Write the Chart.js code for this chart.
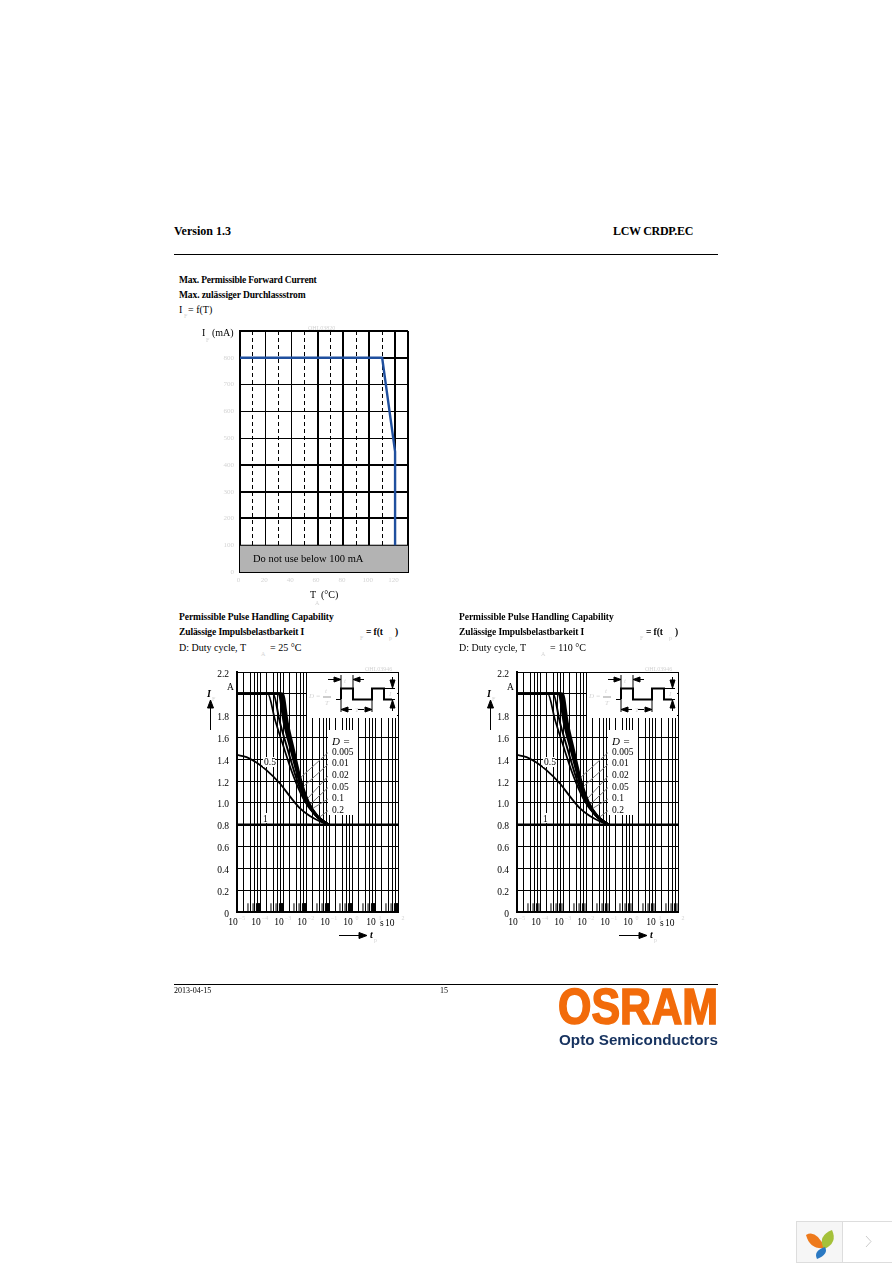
<!DOCTYPE html>
<html>
<head>
<meta charset="utf-8">
<title>LCW CRDP.EC</title>
<script src="https://cdn.jsdelivr.net/npm/chart.js@4"></script>
<style>
  html, body { margin: 0; background: #fff; }
  body { position: relative; width: 892px; height: 1263px; overflow: hidden; font-family: "Liberation Serif", serif; color: #000; }
  canvas { position: absolute; }
  .t { position: absolute; white-space: pre; font-size: 10px; line-height: 12px; }
  .b { font-weight: bold; font-size: 9.5px; letter-spacing: -0.1px; }
  .faint { color: #d4d4d4; font-size: 6px; }
  .rule { position: absolute; left: 174px; width: 544px; height: 1px; background: #000; }
  .mask { position: absolute; background: #fff; }
  svg.over { position: absolute; left: 0; top: 0; }
</style>
</head>
<body>
<div class="t b" style="left:174px;top:224px;font-size:12px;line-height:14px;letter-spacing:0">Version 1.3</div>
<div class="t b" style="left:613px;top:224px;font-size:12px;line-height:14px;letter-spacing:-0.3px">LCW CRDP.EC</div>
<div class="rule" style="top:254px"></div>

<div class="t b" style="left:179px;top:274px;letter-spacing:-0.2px">Max. Permissible Forward Current</div>
<div class="t b" style="left:179px;top:289px">Max. zulässiger Durchlassstrom</div>
<div class="t" style="left:179px;top:304px">I</div>
<div class="t faint" style="left:184px;top:310px">F</div>
<div class="t" style="left:188px;top:304px">= f(T)</div>

<canvas id="maxCurrent" width="220" height="271" style="left:200px;top:321px"></canvas>
<div class="t" style="left:202px;top:327px">I</div>
<div class="t faint" style="left:206px;top:334px">F</div>
<div class="t" style="left:212px;top:327px">(mA)</div>
<div class="t" style="left:310px;top:589px">T</div>
<div class="t faint" style="left:315px;top:597px">A</div>
<div class="t" style="left:321px;top:589px">(°C)</div>
<div class="t faint" style="left:308px;top:322px">OHL03820</div>

<div id="pulseParts"></div>

<div class="rule" style="top:984px"></div>
<div class="t" style="left:174px;top:985px;font-size:8px">2013-04-15</div>
<div class="t" style="left:440px;top:985px;font-size:8px">15</div>

<svg class="over" width="892" height="1263" style="pointer-events:none">
  <text x="558" y="1024" font-family="Liberation Sans" font-weight="bold" font-size="50" fill="#f26b0a" stroke="#f26b0a" stroke-width="1.6" textLength="160" lengthAdjust="spacingAndGlyphs">OSRAM</text>
  <text x="559" y="1045" font-family="Liberation Sans" font-weight="bold" font-size="15" fill="#16325f" textLength="159" lengthAdjust="spacingAndGlyphs">Opto Semiconductors</text>
  <rect x="796.5" y="1221.5" width="46" height="41" fill="#f6f6f6" stroke="#ddd"/>
  <rect x="842.5" y="1221.5" width="50" height="41" fill="#fff" stroke="#ddd"/>
  <path d="M806 1235 Q816 1229 825 1248 Q810 1250 806 1235Z" fill="#ee7a1c"/>
  <path d="M832 1230 Q838 1243 824 1249 Q817 1236 832 1230Z" fill="#a5c13a"/>
  <path d="M825 1247 Q829 1254 817 1259 Q813 1251 825 1247Z" fill="#2b79c2"/>
  <path d="M866 1236 L871 1241.5 L866 1247" fill="none" stroke="#ccc"/>
</svg>

<script>
// forward current derating
const tempC = [0, 110, 120, 120];
const forwardMA = [800, 800, 450, 100];
const bandTemp = [0, 130];
const bandMA = [100, 100];
const thickTemp = [0, 60, 80, 100, 120, 130];
const thickMA = [0, 200, 300, 400, 800, 900];
const dashedTemp = [10, 30, 50, 70, 90, 110];

// pulse handling, the curves are the same for both temperatures
const tD1 = [1e-5, 2.6e-5, 7e-5, 1.9e-4, 7.2e-4, 2e-3, 5.5e-3, 1.48e-2, 4.1e-2, 0.094];
const iD1 = [1.44, 1.42, 1.37, 1.30, 1.18, 1.06, 0.95, 0.88, 0.83, 0.80];
const tD02 = [1e-5, 2.2e-4, 4.4e-4, 1e-3, 2.8e-3, 7.6e-3, 2.1e-2, 0.094];
const iD02 = [2.0, 2.0, 1.77, 1.53, 1.25, 1.04, 0.905, 0.80];
const tD01 = [1e-5, 3.7e-4, 7.3e-4, 1.7e-3, 3.9e-3, 9e-3, 2.47e-2, 0.094];
const iD01 = [2.0, 2.0, 1.74, 1.47, 1.22, 1.03, 0.89, 0.80];
const tD005 = [1e-5, 6.6e-4, 1.1e-3, 2.2e-3, 4.9e-3, 1.12e-2, 2.8e-2, 0.094];
const iD005 = [2.0, 2.0, 1.74, 1.49, 1.22, 1.01, 0.883, 0.80];
const tD002 = [1e-5, 7.6e-4, 1.25e-3, 2.5e-3, 5.2e-3, 1.2e-2, 2.95e-2, 0.094];
const iD002 = [2.0, 2.0, 1.74, 1.48, 1.21, 1.005, 0.88, 0.80];
const tD001 = [1e-5, 8.6e-4, 1.4e-3, 2.7e-3, 5.5e-3, 1.26e-2, 3.1e-2, 0.094];
const iD001 = [2.0, 2.0, 1.74, 1.48, 1.21, 1.002, 0.877, 0.80];
const tD0005 = [1e-5, 9.6e-4, 1.55e-3, 2.95e-3, 5.9e-3, 1.33e-2, 3.25e-2, 0.094];
const iD0005 = [2.0, 2.0, 1.74, 1.48, 1.21, 0.999, 0.874, 0.80];
const tLimit = [1e-5, 100];
const iLimit = [0.8, 0.8];

const legendDuty = ['0.005', '0.01', '0.02', '0.05', '0.1', '0.2'];
const leaderT0 = [0.1, 0.1, 0.1, 0.1, 0.1, 0.1];
const leaderI0 = [1.469, 1.362, 1.255, 1.149, 1.042, 0.935];
const leaderT1 = [5.3e-3, 6.3e-3, 1.03e-2, 1.44e-2, 2e-2, 3.3e-2];
const leaderI1 = [1.225, 1.133, 1.027, 0.981, 0.951, 0.859];

const currentTicks = ['0', '0.2', '0.4', '0.6', '0.8', '1.0', '1.2', '1.4', '1.6', '1.8', '', '2.2'];
const decadeExps = [-5, -4, -3, -2, -1, 0, 1, 2];
const gridMantissa = [1, 2, 4, 6, 8];
const shortMantissa25 = [3, 5, 7, 7.4, 7.8, 8, 8.4, 8.8, 9, 9.3, 9.6];
const shortMantissa110 = [3, 5, 7, 9];

const FONT = '"Liberation Serif", serif';

function pts(xs, ys) {
  return xs.map((x, i) => ({x: x, y: ys[i]}));
}

function curve(xs, ys, w) {
  return {data: pts(xs, ys), borderColor: '#000', borderWidth: w, pointRadius: 0, cubicInterpolationMode: 'monotone'};
}

function mantissa(v) {
  return Math.round(v / Math.pow(10, Math.floor(Math.log10(v) + 1e-9)) * 100) / 100;
}

// keep the plot box fixed, tick labels must not push it around
function fixX(s) {
  s.height = 20;
  s.paddingLeft = 0;
  s.paddingRight = 0;
}

function fixY(s) {
  s.width = 40;
  s.paddingTop = 0;
  s.paddingBottom = 0;
}

const bandLabel = {
  id: 'bandLabel',
  afterDatasetsDraw(chart) {
    const c = chart.ctx;
    c.save();
    c.fillStyle = '#000';
    c.font = '10.5px ' + FONT;
    c.textBaseline = 'middle';
    c.fillText('Do not use below 100 mA', chart.scales.x.getPixelForValue(10), chart.scales.y.getPixelForValue(46));
    c.restore();
  }
};

new Chart(document.getElementById('maxCurrent'), {
  type: 'line',
  data: {
    datasets: [
      {data: pts(tempC, forwardMA), borderColor: '#1f4f9e', borderWidth: 2.4, pointRadius: 0, tension: 0, order: 0},
      {data: pts(bandTemp, bandMA), borderColor: '#000', borderWidth: 1, pointRadius: 0, fill: 'origin', backgroundColor: '#b3b3b3', order: 1}
    ]
  },
  options: {
    responsive: false,
    animation: false,
    layout: {padding: {top: 10, right: 12}},
    plugins: {legend: {display: false}, tooltip: {enabled: false}},
    scales: {
      x: {
        type: 'linear', min: 0, max: 130,
        afterFit: fixX,
        border: {color: '#000', width: 1, dash: ctx => ctx.tick && dashedTemp.includes(ctx.tick.value) ? [4, 3] : []},
        grid: {
          drawTicks: false, color: '#000',
          lineWidth: ctx => thickTemp.includes(ctx.tick.value) ? 2 : 1
        },
        ticks: {
          stepSize: 10, autoSkip: false, maxRotation: 0, color: '#d4d4d4', padding: 4, labelOffset: -1.5, font: {family: FONT, size: 7},
          callback: v => (v % 20 === 0 && v <= 120) ? String(v) : ''
        }
      },
      y: {
        min: 0, max: 900,
        afterFit: fixY,
        border: {color: '#000', width: 2},
        grid: {
          drawTicks: false, color: '#000',
          lineWidth: ctx => thickMA.includes(ctx.tick.value) ? 2 : 1
        },
        ticks: {
          stepSize: 100, color: '#d4d4d4', padding: 6, font: {family: FONT, size: 7},
          callback: v => v === 900 ? '' : String(v)
        }
      }
    }
  },
  plugins: [bandLabel]
});

// faint exponents next to the tick labels
const exponents = {
  id: 'exponents',
  afterDraw(chart) {
    const c = chart.ctx;
    c.save();
    c.fillStyle = '#d4d4d4';
    c.font = '6px ' + FONT;
    c.textAlign = 'center';
    decadeExps.forEach(e => {
      c.fillText(String(e).replace('-', '−'), chart.scales.x.getPixelForValue(Math.pow(10, e)) + 5, chart.scales.x.top + 8);
    });
    c.restore();
  }
};

function pulseChart(id, shortMantissa) {
  const ds = [];
  ds.push(curve(tLimit, iLimit, 2.4));
  ds.push(curve(tD1, iD1, 1.8));
  ds.push(curve(tD02, iD02, 1.7));
  ds.push(curve(tD01, iD01, 1.9));
  [[tD005, iD005], [tD002, iD002], [tD001, iD001], [tD0005, iD0005]].forEach(c => {
    ds.push(curve(c[0], c[1], 2.6));
  });
  leaderT0.forEach((t, i) => {
    ds.push({data: pts([t, leaderT1[i]], [leaderI0[i], leaderI1[i]]), borderColor: '#777', borderWidth: 1, pointRadius: 0});
  });
  const shortTicks = [];
  decadeExps.slice(0, -1).forEach(e => {
    shortMantissa.forEach(m => {
      const t = m * Math.pow(10, e);
      shortTicks.push({x: t, y: 0}, {x: t, y: 0.08}, {x: t, y: NaN});
    });
  });
  ds.push({data: shortTicks, borderColor: '#000', borderWidth: 1, pointRadius: 0, spanGaps: false});

  new Chart(document.getElementById(id), {
    type: 'line',
    data: {datasets: ds},
    options: {
      responsive: false,
      animation: false,
      layout: {padding: {top: 10, right: 12}},
      plugins: {legend: {display: false}, tooltip: {enabled: false}},
      scales: {
        x: {
          type: 'logarithmic', min: 1e-5, max: 100,
          afterFit: fixX,
          border: {color: '#000', width: 2},
          grid: {
            drawTicks: false,
            color: ctx => gridMantissa.includes(mantissa(ctx.tick.value)) ? '#000' : 'rgba(0,0,0,0)',
            lineWidth: 1
          },
          ticks: {
            autoSkip: false, maxRotation: 0, color: '#000', padding: 5, labelOffset: -4, font: {family: FONT, size: 9.5},
            callback: v => (mantissa(v) === 1 && v < 50) ? '10' : ''
          }
        },
        y: {
          min: 0, max: 2.2,
          afterFit: fixY,
          border: {color: '#000', width: 2},
          grid: {drawTicks: false, color: '#000', lineWidth: 1},
          ticks: {
            stepSize: 0.2, color: '#000', padding: 8, labelOffset: 2, font: {family: FONT, size: 9.5},
            callback: (v, i) => currentTicks[i]
          }
        }
      }
    },
    plugins: [exponents]
  });
}

function partsHtml(dx, tempText, id) {
  const x = v => v + dx;
  let legend = '';
  legendDuty.forEach((d, i) => {
    legend += `<div class="t" style="left:${x(332)}px;top:${745.5 + i * 11.7}px;font-size:9.5px">${d}</div>`;
  });
  return `
  <div class="t b" style="left:${x(179)}px;top:611px;letter-spacing:-0.05px">Permissible Pulse Handling Capability</div>
  <div class="t b" style="left:${x(179)}px;top:626px">Zulässige Impulsbelastbarkeit I</div>
  <div class="t faint" style="left:${x(360)}px;top:632px">F</div>
  <div class="t b" style="left:${x(366)}px;top:626px">= f(t</div>
  <div class="t faint" style="left:${x(389)}px;top:632px">p</div>
  <div class="t b" style="left:${x(395)}px;top:626px">)</div>
  <div class="t" style="left:${x(179)}px;top:642px">D: Duty cycle, T</div>
  <div class="t faint" style="left:${x(261)}px;top:648px">A</div>
  <div class="t" style="left:${x(270)}px;top:642px">= ${tempText} °C</div>
  <canvas id="${id}" width="213" height="270" style="left:${x(197)}px;top:662px"></canvas>
  <div class="mask" style="left:${x(307)}px;top:673px;width:90px;height:45px"></div>
  <div class="mask" style="left:${x(328)}px;top:730px;width:30px;height:85px"></div>
  <div class="mask" style="left:${x(263)}px;top:757px;width:12px;height:10px"></div>
  <div class="mask" style="left:${x(262)}px;top:813px;width:7px;height:10px"></div>
  <div class="t" style="left:${x(264)}px;top:756px;font-size:9.5px">0.5</div>
  <div class="t" style="left:${x(263)}px;top:813px;font-size:9.5px">1</div>
  <div class="t" style="left:${x(332)}px;top:735px;font-size:11px;font-style:italic">D =</div>
  ${legend}
  <div class="t" style="left:${x(227)}px;top:681px;font-size:9.5px">A</div>
  <div class="t b" style="left:${x(207)}px;top:688px;font-style:italic;font-size:10px">I</div>
  <div class="t faint" style="left:${x(212)}px;top:693px">F</div>
  <div class="t" style="left:${x(385)}px;top:917px;font-size:9.5px">10</div>
  <div class="t" style="left:${x(380)}px;top:917px;font-size:9.5px">s</div>
  <div class="t b" style="left:${x(370)}px;top:929px;font-style:italic;font-size:10px">t</div>
  <div class="t faint" style="left:${x(374)}px;top:934px">p</div>
  <div class="t faint" style="left:${x(365)}px;top:663px">OHL03946</div>
  <svg class="over" width="892" height="1263" style="pointer-events:none">
    <g transform="translate(${dx},0)" fill="none" stroke="#000">
      <path d="M210.5 730V706" stroke-width="1"/><path d="M210.5 700l-3 8h6z" fill="#000"/>
      <path d="M339 935.5H361" stroke-width="1"/><path d="M367 935.5l-8-3v6z" fill="#000"/>
      <path d="M336 699.5H341" stroke-width="1"/>
      <path d="M341 699.5V688.5H353V699.5H372V688.5H384V699.5H392" stroke-width="2"/>
      <path d="M341 675V688M353 675V688M341 700V712M372 700V712" stroke-width="1"/>
      <path d="M328 679.5H337M364 679.5H356M345 709.5H352M364 709.5H358" stroke-width="1"/>
      <path d="M341 679.5l-7-2.5v5zM353 679.5l7-2.5v5zM341 709.5l7-2.5v5zM372 709.5l-7-2.5v5z" fill="#000"/>
      <path d="M384 688.5H395M384 699.5H395" stroke-width="1"/>
      <path d="M392.5 677V682M392.5 706V711" stroke-width="1"/>
      <path d="M392.5 688l-2.5-8h5zM392.5 700l-2.5 8h5z" fill="#000"/>
    </g>
    <g transform="translate(${dx},0)" font-family="Liberation Serif" font-size="7" fill="#d4d4d4">
      <text x="344" y="683" font-style="italic">t</text>
      <text x="355" y="712" font-style="italic">T</text>
      <text x="389" y="696" font-style="italic">I</text>
      <text x="309" y="698" font-style="italic">D =</text>
      <text x="325" y="693" font-style="italic">t</text>
      <text x="325" y="705" font-style="italic">T</text>
    </g>
    <path transform="translate(${dx},0)" d="M323 697H331" stroke="#999" stroke-width="1"/>
  </svg>`;
}

document.getElementById('pulseParts').innerHTML = partsHtml(0, '25', 'pulse25') + partsHtml(280, '110', 'pulse110');
pulseChart('pulse25', shortMantissa25);
pulseChart('pulse110', shortMantissa110);
</script>
</body>
</html>
